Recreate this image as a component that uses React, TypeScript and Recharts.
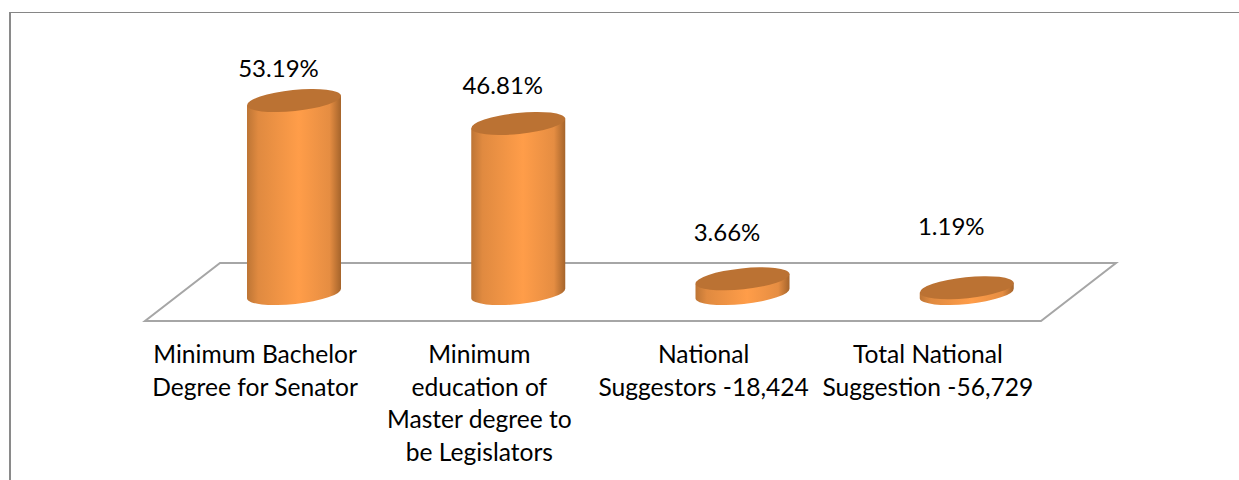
import React from 'react';
import { BarChart, Bar, XAxis, YAxis, LabelList, Customized } from 'recharts';

const categories = [
  'Minimum Bachelor Degree for Senator',
  'Minimum education of Master degree to be Legislators',
  'National Suggestors -18,424',
  'Total National Suggestion -56,729',
];
const shares = [53.19, 46.81, 3.66, 1.19];
const shareLabels = ['53.19%', '46.81%', '3.66%', '1.19%'];

const tickLines = [
  ['Minimum Bachelor', 'Degree for Senator'],
  ['Minimum', 'education of', 'Master degree to', 'be Legislators'],
  ['National', 'Suggestors -18,424'],
  ['Total National', 'Suggestion -56,729'],
];

// everything in the reference sits left of the bars, labels also drop by hand
const TICK_DX = -39;
const LABEL_DX = -15.5;
const labelDrop = [8, 2.5, -6, -21];

const FONT = 'Lato, sans-serif';
const chartData = categories.map((name, i) => ({ name, share: shares[i], label: shareLabels[i] }));

const Cylinder = (props: any) => {
  const { x, y, width, height } = props;
  const cx = x + width / 2;
  const rx = width / 2;
  const ry = 10.5;
  const dy = 5;
  const top = y - 2;
  const bottom = y + height - 0.5;
  return (
    <g>
      <path
        d={`M${cx - rx},${top + dy} L${cx - rx},${bottom + dy} A${rx},${ry} -6 0 0 ${cx + rx},${bottom - dy} L${cx + rx},${top - dy} Z`}
        fill="url(#cyl)"
      />
      <ellipse cx={cx} cy={top} rx={rx + 0.2} ry={ry} fill="#bb7233" transform={`rotate(-6 ${cx} ${top})`} />
    </g>
  );
};

const Floor = () => (
  <polygon points="220,263 1116,263 1041,321 145,321" fill="none" stroke="#a6a6a6" strokeWidth={2} />
);

const CategoryTick = (props: any) => {
  const { x, index } = props;
  const tx = x + TICK_DX;
  return (
    <text x={tx} y={363} textAnchor="middle" fontFamily={FONT} fontSize={24.6} fill="#000">
      {tickLines[index].map((line, i) => (
        <tspan key={line} x={tx} dy={i === 0 ? 0 : 32.5}>
          {line}
        </tspan>
      ))}
    </text>
  );
};

const ShareLabel = (props: any) => {
  const { x, y, width, index } = props;
  return (
    <text x={x + width / 2 + LABEL_DX} y={y - 34 + labelDrop[index]} textAnchor="middle" fontFamily={FONT} fontSize={24} fill="#000">
      {shareLabels[index]}
    </text>
  );
};

export default function App() {
  return (
    <div style={{ position: 'absolute', left: 0, top: 0, width: 1239, height: 480, background: '#fff' }}>
      <div style={{ position: 'absolute', left: 9, top: 12, right: 0, bottom: 0, borderLeft: '2px solid #8a8a8a', borderTop: '1px solid #868686' }} />
      <BarChart
        width={1239}
        height={480}
        data={chartData}
        margin={{ top: 60, right: 160, bottom: 86, left: 182 }}
        barCategoryGap={65}
        style={{ position: 'absolute', left: 0, top: 0 }}
      >
        <defs>
          <linearGradient id="cyl" x1="0" y1="0" x2="1" y2="0">
            <stop offset="0" stopColor="#bd7535" />
            <stop offset="0.12" stopColor="#e08a40" />
            <stop offset="0.55" stopColor="#ff9d49" />
            <stop offset="0.88" stopColor="#e58d42" />
            <stop offset="1" stopColor="#a5642b" />
          </linearGradient>
        </defs>
        <Customized component={Floor} />
        <XAxis dataKey="name" axisLine={false} tickLine={false} interval={0} tick={<CategoryTick />} height={100} />
        <YAxis hide domain={[0, 65]} />
        <Bar dataKey="share" shape={<Cylinder />} isAnimationActive={false}>
          <LabelList dataKey="label" content={<ShareLabel />} />
        </Bar>
      </BarChart>
    </div>
  );
}
